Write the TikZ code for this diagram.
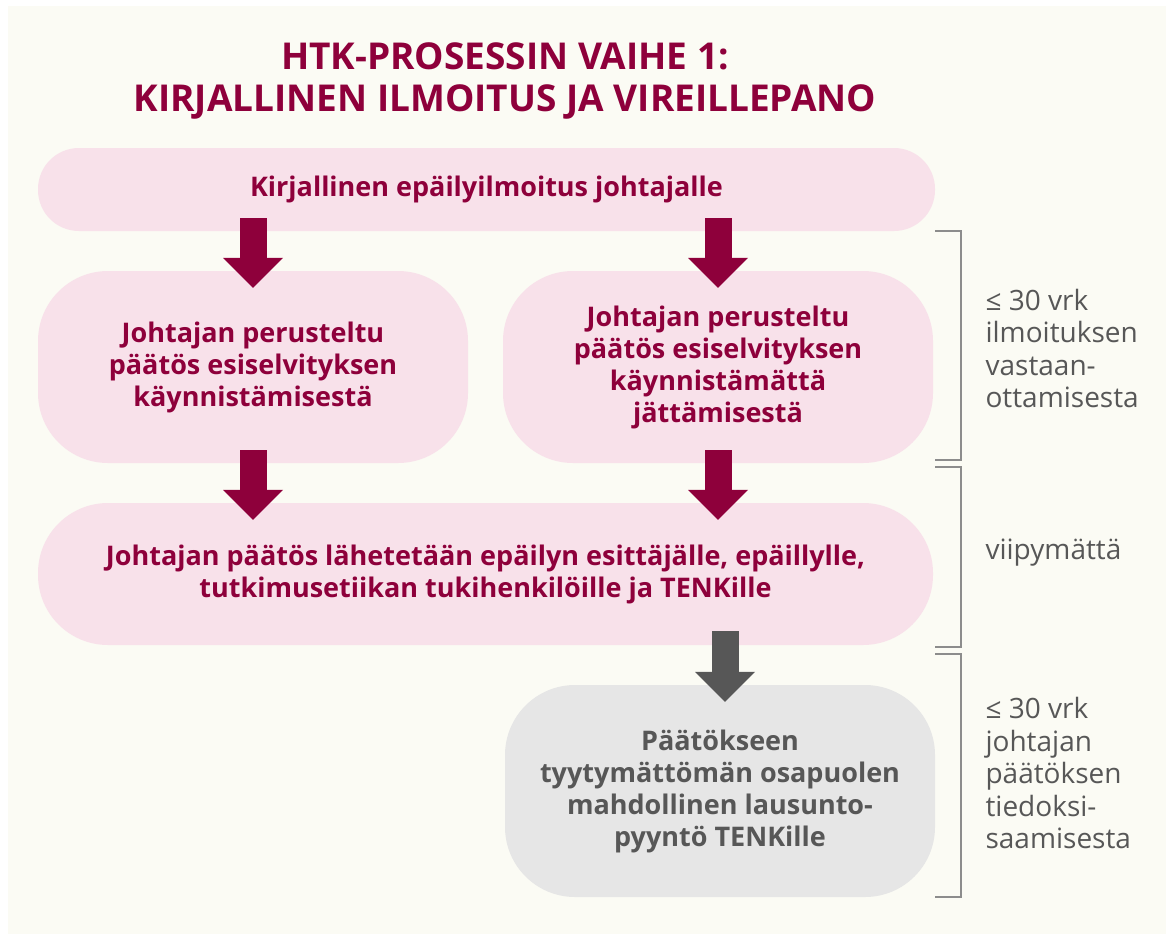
\documentclass[tikz,border=0pt]{standalone}
\usepackage{fontspec}
\setmainfont{Open Sans}
\usepackage{xcolor}
\usetikzlibrary{arrows.meta}

\definecolor{htkred}{HTML}{8E003B}
\definecolor{htkpink}{HTML}{F8E1EA}
\definecolor{htkcream}{HTML}{FBFBF4}
\definecolor{htkgrey}{HTML}{E6E6E6}
\definecolor{htkdark}{HTML}{575757}
\definecolor{htkline}{HTML}{8C8C8C}

\tikzset{
  pinkbox/.style={rectangle, rounded corners=70pt, fill=htkpink, text=htkred, align=center, inner sep=0pt,
    font=\bfseries\fontsize{27}{32}\selectfont},
  greybox/.style={pinkbox, fill=htkgrey, text=htkdark},
  bigarrow/.style={draw=htkred, line width=27pt, -{Triangle[width=60pt, length=30pt, line width=0pt]},
    shorten <=-13pt, shorten >=-17pt},
  timelabel/.style={anchor=west, align=left, text=htkdark, font=\fontsize{28}{32.5}\selectfont},
  bracket/.style={draw=htkline, line width=1.5pt}
}

\begin{document}
\begin{tikzpicture}[x=1pt, y=-1pt]
\useasboundingbox (0,0) rectangle (1166,934);
\fill[white] (0,0) rectangle (1166,934);
\fill[htkcream] (8,6) rectangle (1166,934);

\node (title) [align=center, text=htkred, font=\bfseries\fontsize{37}{42}\selectfont] at (505,81) {HTK-PROSESSIN VAIHE 1:\\KIRJALLINEN ILMOITUS JA VIREILLEPANO};

\node (ilmoitus) [pinkbox, rounded corners=41pt, minimum width=897pt, minimum height=83pt] at (486.5,189.5) {Kirjallinen epäilyilmoitus johtajalle};

\node (kaynnistys) [pinkbox, minimum width=430pt, minimum height=192pt] at (253,367) {Johtajan perusteltu\\päätös esiselvityksen\\käynnistämisestä};
\node (ei) [pinkbox, minimum width=430pt, minimum height=192pt] at (718,367) {Johtajan perusteltu\\päätös esiselvityksen\\käynnistämättä\\jättämisestä};

\node (lahetys) [pinkbox, minimum width=895pt, minimum height=142pt] at (485.5,574) {Johtajan päätös lähetetään epäilyn esittäjälle, epäillylle,\\tutkimusetiikan tukihenkilöille ja TENKille};

\node (lausunto) [greybox, minimum width=430pt, minimum height=212pt] at (720,791) {Päätökseen\\tyytymättömän osapuolen\\mahdollinen lausunto-\\pyyntö TENKille};

\draw[bigarrow] (kaynnistys.north |- ilmoitus.south) -- (kaynnistys.north);
\draw[bigarrow] (ei.north |- ilmoitus.south) -- (ei.north);
\draw[bigarrow] (kaynnistys.south) -- (kaynnistys.south |- lahetys.north);
\draw[bigarrow] (ei.south) -- (ei.south |- lahetys.north);
\draw[bigarrow, draw=htkdark, shorten <=-14pt] ([xshift=5pt]lausunto.north |- lahetys.south) -- ([xshift=5pt]lausunto.north);

% time brackets
\draw[bracket] (935,231) -- (961,231) -- (961,460) -- (935,460);
\draw[bracket] (935,467) -- (961,467) -- (961,647) -- (935,647);
\draw[bracket] (935,654) -- (961,654) -- (961,897) -- (935,897);

\node (aika1) [timelabel] at (982,348.5) {≤ 30 vrk\\ilmoituksen\\vastaan-\\ottamisesta};
\node (aika2) [timelabel] at (982,553) {viipymättä};
\node (aika3) [timelabel] at (982,773) {≤ 30 vrk\\johtajan\\päätöksen\\tiedoksi-\\saamisesta};

\end{tikzpicture}
\end{document}
